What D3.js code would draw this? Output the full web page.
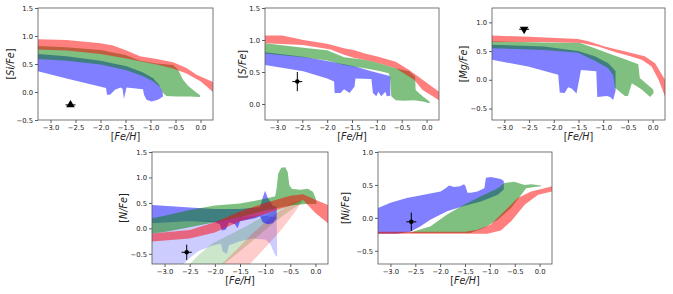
<!DOCTYPE html>
<html>
<head>
<meta charset="utf-8">
<script src="https://cdn.jsdelivr.net/npm/d3@7"></script>
<style>
  body { margin: 0; background: #fff; }
  svg { display: block; font-family: "DejaVu Sans", sans-serif; }
</style>
</head>
<body>
<div id="chart"></div>
<script>
// [Fe/H] ticks shared by every panel
const fehTicks = [-3.0, -2.5, -2.0, -1.5, -1.0, -0.5, 0.0];

// Si panel bands, [Fe/H, value] pairs
const siRedHi = [[-3.25,0.94],[-2.68,0.93],[-2.0,0.87],[-1.75,0.83],[-1.48,0.74],[-1.21,0.64],[-0.88,0.59],[-0.55,0.53],[-0.28,0.43],[-0.08,0.31],[0.25,0.18]];
const siRedLo = [[-3.25,0.76],[-2.68,0.74],[-2.0,0.68],[-1.48,0.6],[-1.21,0.55],[-0.88,0.49],[-0.55,0.42],[-0.28,0.33],[0.0,0.19],[0.25,0.0]];
const siGreenHi = [[-3.25,0.82],[-2.68,0.8],[-2.0,0.75],[-1.5,0.66],[-1.2,0.56],[-0.88,0.51],[-0.55,0.48],[-0.45,0.4],[-0.35,0.22],[-0.25,0.11],[-0.11,0.01],[-0.01,-0.06]];
const siGreenLo = [[-3.25,0.59],[-2.68,0.56],[-2.0,0.49],[-1.48,0.39],[-1.15,0.28],[-0.95,0.19],[-0.81,0.09],[-0.75,-0.02],[-0.68,-0.07],[-0.48,-0.08],[-0.21,-0.08],[-0.01,-0.09]];
const siBlueHi = [[-3.25,0.68],[-2.68,0.64],[-2.0,0.56],[-1.48,0.46],[-1.15,0.35],[-0.95,0.25],[-0.83,0.13],[-0.76,0.01],[-0.75,-0.08]];
const siBlueLo = [[-3.25,0.37],[-2.68,0.24],[-1.89,0.07],[-1.87,-0.05],[-1.81,-0.05],[-1.71,0.04],[-1.6,0.08],[-1.56,0.06],[-1.53,-0.12],[-1.48,0.08],[-1.15,0.05],[-1.13,-0.05],[-1.08,-0.14],[-0.98,-0.17],[-0.85,-0.14],[-0.75,-0.08]];

// S panel
const sRedHi = [[-3.25,1.07],[-2.9,1.07],[-2.48,1.0],[-2.0,0.94],[-1.66,0.87],[-1.45,0.84],[-1.24,0.79],[-0.97,0.74],[-0.62,0.66],[-0.35,0.53],[-0.08,0.38],[0.25,0.19]];
const sRedLo = [[-3.25,0.95],[-2.48,0.92],[-1.93,0.85],[-1.66,0.77],[-1.45,0.72],[-1.24,0.69],[-0.97,0.64],[-0.62,0.56],[-0.42,0.46],[-0.25,0.38],[-0.08,0.22],[0.25,0.06]];
const sGreenHi = [[-3.25,0.95],[-2.48,0.88],[-2.0,0.84],[-1.66,0.73],[-1.24,0.69],[-0.97,0.64],[-0.62,0.56],[-0.35,0.51],[-0.23,0.43],[-0.22,0.22],[-0.08,0.12],[0.06,0.04]];
const sGreenLo = [[-3.25,0.79],[-2.48,0.73],[-2.0,0.68],[-1.66,0.61],[-1.24,0.56],[-0.97,0.52],[-0.76,0.48],[-0.73,0.38],[-0.71,0.12],[-0.62,0.06],[-0.45,0.05],[-0.25,0.06],[-0.08,0.04],[0.06,0.01]];
const sBlueHi = [[-3.25,0.81],[-2.48,0.74],[-2.0,0.67],[-1.45,0.59],[-1.11,0.51],[-0.76,0.44],[-0.73,0.42]];
const sBlueLo = [[-3.25,0.61],[-2.48,0.51],[-2.0,0.4],[-1.86,0.35],[-1.85,0.17],[-1.73,0.17],[-1.66,0.23],[-1.55,0.17],[-1.45,0.27],[-1.43,0.4],[-1.11,0.39],[-1.08,0.17],[-1.01,0.12],[-0.97,0.19],[-0.91,0.12],[-0.83,0.19],[-0.8,0.12],[-0.73,0.13]];

// Mg panel
const mgRedHi = [[-3.25,0.77],[-2.5,0.75],[-1.51,0.71],[-1.3,0.67],[-0.97,0.58],[-0.49,0.48],[-0.16,0.41],[0.05,0.29],[0.25,0.0]];
const mgRedLo = [[-3.25,0.66],[-2.2,0.66],[-1.45,0.64],[-1.1,0.58],[-0.75,0.48],[-0.45,0.41],[-0.22,0.35],[-0.02,0.23],[0.12,0.0],[0.25,-0.29]];
const mgGreenHi = [[-3.25,0.67],[-2.2,0.65],[-1.47,0.64],[-1.4,0.62],[-1.17,0.55],[-0.83,0.44],[-0.53,0.35],[-0.29,0.27],[-0.26,0.03],[0.01,-0.17],[0.02,-0.23]];
const mgGreenLo = [[-3.25,0.55],[-2.2,0.52],[-1.51,0.47],[-1.17,0.33],[-0.9,0.2],[-0.8,0.08],[-0.76,-0.14],[-0.72,-0.17],[-0.56,-0.28],[-0.5,-0.28],[-0.42,-0.06],[-0.22,-0.17],[-0.05,-0.3],[0.02,-0.23]];
const mgBlueHi = [[-3.25,0.61],[-2.2,0.58],[-1.51,0.5],[-1.17,0.41],[-0.9,0.29],[-0.8,0.2],[-0.75,0.15],[-0.75,-0.19]];
const mgBlueLo = [[-3.25,0.35],[-2.52,0.23],[-1.91,0.09],[-1.88,-0.22],[-1.78,-0.23],[-1.71,-0.13],[-1.64,-0.15],[-1.54,-0.24],[-1.45,0.17],[-1.14,0.15],[-1.12,-0.3],[-0.93,-0.28],[-0.86,-0.3],[-0.8,-0.35],[-0.75,-0.19]];

// N panel (light bands are the faint ones)
const nLightBlueHi = [[-3.25,0.1],[-2.5,0.14],[-2.0,0.14],[-1.5,0.22],[-1.1,0.26],[-0.77,0.22]];
const nLightBlueLo = [[-3.25,-0.7],[-2.62,-0.7],[-2.5,-0.58],[-2.33,-0.45],[-2.06,-0.34],[-1.88,-0.3],[-1.84,-0.46],[-1.76,-0.5],[-1.72,-0.33],[-1.52,-0.26],[-1.26,-0.2],[-1.0,-0.22],[-0.9,-0.3],[-0.8,-0.53],[-0.76,-0.56]];
const nLightGreenHi = [[-2.5,-0.7],[-2.33,-0.53],[-2.06,-0.3],[-1.72,-0.13],[-1.39,0.03],[-1.05,0.23],[-0.72,0.39],[-0.45,0.5],[-0.2,0.56]];
const nLightGreenLo = [[-1.82,-0.7],[-1.5,-0.45],[-1.2,-0.2],[-0.9,0.05],[-0.6,0.28],[-0.35,0.45],[-0.2,0.56]];
const nLightRedHi = [[-1.86,-0.7],[-1.6,-0.45],[-1.3,-0.15],[-1.0,0.12],[-0.7,0.35],[-0.45,0.5],[-0.25,0.58]];
const nLightRedLo = [[-1.3,-0.7],[-1.0,-0.38],[-0.7,-0.05],[-0.5,0.2],[-0.35,0.4],[-0.25,0.58]];
const nRedHi = [[-3.25,-0.1],[-2.5,-0.03],[-2.0,0.12],[-1.5,0.33],[-1.0,0.5],[-0.5,0.64],[-0.25,0.67],[0.0,0.56],[0.25,0.46]];
const nRedLo = [[-3.25,-0.26],[-2.5,-0.2],[-2.0,-0.08],[-1.5,0.14],[-1.0,0.28],[-0.5,0.45],[-0.25,0.56],[0.0,0.3],[0.25,0.1]];
const nGreenHi = [[-3.25,0.2],[-3.0,0.25],[-2.5,0.36],[-2.0,0.45],[-1.5,0.49],[-1.2,0.54],[-1.0,0.58],[-0.8,0.63],[-0.77,0.8],[-0.74,1.08],[-0.68,1.19],[-0.6,1.2],[-0.55,1.1],[-0.52,0.85],[-0.47,0.78],[-0.3,0.76],[-0.15,0.78],[-0.05,0.72],[0.0,0.6],[0.02,0.52]];
const nGreenLo = [[-3.25,-0.1],[-3.0,-0.07],[-2.5,0.02],[-2.0,0.12],[-1.5,0.22],[-1.0,0.35],[-0.5,0.45],[-0.2,0.48],[0.02,0.48]];
const nBlueHi = [[-3.25,0.46],[-2.8,0.43],[-2.5,0.41],[-2.0,0.38],[-1.5,0.38],[-1.1,0.42],[-1.05,0.6],[-1.0,0.74],[-0.95,0.6],[-0.85,0.45],[-0.77,0.42]];
const nBlueLo = [[-3.25,0.1],[-2.5,0.14],[-2.0,0.12],[-1.9,0.08],[-1.86,-0.04],[-1.78,-0.02],[-1.72,0.12],[-1.6,0.08],[-1.55,0.0],[-1.5,0.14],[-1.2,0.2],[-1.1,0.24],[-1.05,0.12],[-0.95,0.08],[-0.85,0.1],[-0.77,0.2]];

// Ni panel
const niRedHi = [[-3.25,-0.21],[-1.5,-0.21],[-1.25,-0.18],[-0.98,-0.1],[-0.71,0.1],[-0.44,0.3],[-0.17,0.4],[0.1,0.45],[0.25,0.48]];
const niRedLo = [[-3.25,-0.24],[-1.05,-0.24],[-0.78,-0.19],[-0.57,-0.05],[-0.3,0.2],[-0.03,0.35],[0.25,0.4]];
const niGreenHi = [[-3.25,-0.22],[-2.6,-0.22],[-2.47,-0.19],[-2.2,-0.13],[-1.86,0.05],[-1.52,0.2],[-1.18,0.33],[-0.84,0.45],[-0.71,0.53],[-0.51,0.55],[-0.3,0.5],[-0.17,0.51],[0.03,0.49]];
const niGreenLo = [[-3.25,-0.23],[-1.39,-0.23],[-1.11,-0.15],[-0.84,-0.03],[-0.57,0.15],[-0.37,0.35],[-0.27,0.45],[-0.1,0.47],[0.03,0.48]];
const niBlueHi = [[-3.25,0.15],[-3.0,0.23],[-2.67,0.3],[-2.33,0.35],[-1.99,0.4],[-1.89,0.45],[-1.82,0.49],[-1.72,0.47],[-1.6,0.48],[-1.52,0.51],[-1.49,0.48],[-1.45,0.38],[-1.38,0.38],[-1.25,0.4],[-1.11,0.45],[-1.08,0.61],[-0.98,0.62],[-0.78,0.59],[-0.72,0.56],[-0.72,0.43]];
const niBlueLo = [[-3.25,-0.24],[-2.87,-0.24],[-2.6,-0.21],[-2.4,-0.13],[-2.2,-0.03],[-1.86,0.1],[-1.52,0.18],[-1.18,0.25],[-0.84,0.35],[-0.72,0.43]];

// Observed star: one point per panel (Si, S, Mg, N, Ni)
const obsFeH = [-2.6, -2.6, -2.6, -2.56, -2.58];
const obsVal = [-0.23, 0.35, 0.88, -0.47, -0.06];
const obsErrX = [0.1, 0.1, 0.1, 0.1, 0.1];
const obsErrY = [0, 0.15, 0, 0.15, 0.14];
const obsMarker = ['up', 'circle', 'down', 'circle', 'circle'];

const svg = d3.select('#chart')
  .append('svg')
  .attr('width', 673)
  .attr('height', 294);

const panels = [
  { el: 'Si', left: 38, top: 8, width: 175, height: 112, y: [-0.5, 1.5], yTicks: [-0.5, 0, 0.5, 1.0, 1.5], labelX: 10,
    bands: [[siBlueHi, siBlueLo, 'blue', 0.5], [siGreenHi, siGreenLo, 'green', 0.5], [siRedHi, siRedLo, 'red', 0.5]] },
  { el: 'S', left: 265, top: 8, width: 174, height: 112, y: [-0.25, 1.5], yTicks: [0, 0.5, 1.0, 1.5], labelX: 242,
    bands: [[sBlueHi, sBlueLo, 'blue', 0.5], [sGreenHi, sGreenLo, 'green', 0.5], [sRedHi, sRedLo, 'red', 0.5]] },
  { el: 'Mg', left: 492, top: 8, width: 173, height: 112, y: [-0.7, 1.25], yTicks: [-0.5, 0, 0.5, 1.0], labelX: 463,
    bands: [[mgBlueHi, mgBlueLo, 'blue', 0.5], [mgGreenHi, mgGreenLo, 'green', 0.5], [mgRedHi, mgRedLo, 'red', 0.5]] },
  { el: 'N', left: 152, top: 152, width: 176, height: 112, y: [-0.7, 1.5], yTicks: [-0.5, 0, 0.5, 1.0, 1.5], labelX: 123,
    bands: [[nLightBlueHi, nLightBlueLo, 'blue', 0.2], [nLightGreenHi, nLightGreenLo, 'green', 0.2], [nLightRedHi, nLightRedLo, 'red', 0.2],
            [nBlueHi, nBlueLo, 'blue', 0.5], [nGreenHi, nGreenLo, 'green', 0.5], [nRedHi, nRedLo, 'red', 0.5]] },
  { el: 'Ni', left: 378, top: 152, width: 174, height: 112, y: [-0.7, 1.0], yTicks: [-0.5, 0, 0.5, 1.0], labelX: 345,
    bands: [[niBlueHi, niBlueLo, 'blue', 0.5], [niGreenHi, niGreenLo, 'green', 0.5], [niRedHi, niRedLo, 'red', 0.5]] }
];

const fmt = d3.format('.1f');

panels.forEach((p, i) => {
  const g = svg.append('g').attr('transform', `translate(${p.left},${p.top})`);

  const x = d3.scaleLinear().domain([-3.25, 0.25]).range([0, p.width]);
  const y = d3.scaleLinear().domain(p.y).range([p.height, 0]);

  // clip bands to the axes box
  g.append('clipPath').attr('id', 'clip' + i)
    .append('rect').attr('width', p.width).attr('height', p.height);

  const line = d3.line().x(d => x(d[0])).y(d => y(d[1]));
  const bands = g.append('g').attr('clip-path', `url(#clip${i})`);

  // each band: upper edge left to right, lower edge back
  p.bands.forEach(([hi, lo, color, alpha]) => {
    bands.append('path')
      .attr('d', line(hi.concat(lo.slice().reverse())) + 'Z')
      .attr('fill', color)
      .attr('fill-opacity', alpha)
      .attr('stroke', 'none');
  });

  // axes
  const xAxis = d3.axisBottom(x).tickValues(fehTicks).tickFormat(fmt).tickSize(3).tickPadding(2);
  const yAxis = d3.axisLeft(y).tickValues(p.yTicks).tickFormat(fmt).tickSize(3).tickPadding(2);

  g.append('g').attr('transform', `translate(0,${p.height})`).call(xAxis);
  g.append('g').call(yAxis);
  g.selectAll('.domain').remove();
  g.selectAll('.tick line').attr('stroke', '#333').attr('stroke-width', 0.8);
  g.selectAll('.tick text').attr('font-size', 6.8).attr('fill', '#222')
    .attr('font-family', '"DejaVu Sans", sans-serif');

  g.append('rect')
    .attr('width', p.width).attr('height', p.height)
    .attr('fill', 'none').attr('stroke', '#555').attr('stroke-width', 0.8);

  // observed point with error bars
  const px = x(obsFeH[i]), py = y(obsVal[i]);
  const pts = g.append('g');
  pts.append('line')
    .attr('x1', x(obsFeH[i] - obsErrX[i])).attr('x2', x(obsFeH[i] + obsErrX[i]))
    .attr('y1', py).attr('y2', py)
    .attr('stroke', 'black').attr('stroke-width', 1);
  if (obsErrY[i] > 0) {
    pts.append('line')
      .attr('x1', px).attr('x2', px)
      .attr('y1', y(obsVal[i] - obsErrY[i])).attr('y2', y(obsVal[i] + obsErrY[i]))
      .attr('stroke', 'black').attr('stroke-width', 1);
  }
  const sym = obsMarker[i] === 'circle' ? d3.symbolCircle : d3.symbolTriangle;
  const size = obsMarker[i] === 'circle' ? 16 : 32;
  pts.append('path')
    .attr('d', d3.symbol().type(sym).size(size)())
    .attr('transform', `translate(${px},${py})` + (obsMarker[i] === 'down' ? ' rotate(180)' : ''))
    .attr('fill', 'black');

  // axis labels
  g.append('text')
    .attr('x', p.width / 2).attr('y', p.height + 20)
    .attr('text-anchor', 'middle').attr('font-size', 9.6).attr('fill', '#222')
    .call(t => {
      t.append('tspan').text('[');
      t.append('tspan').attr('font-style', 'italic').text('Fe/H');
      t.append('tspan').text(']');
    });

  svg.append('text')
    .attr('transform', `translate(${p.labelX},${p.top + p.height / 2}) rotate(-90)`)
    .attr('text-anchor', 'middle').attr('dominant-baseline', 'central')
    .attr('font-size', 9.6).attr('fill', '#222')
    .call(t => {
      t.append('tspan').text('[');
      t.append('tspan').attr('font-style', 'italic').text(p.el + '/Fe');
      t.append('tspan').text(']');
    });
});
</script>
</body>
</html>
